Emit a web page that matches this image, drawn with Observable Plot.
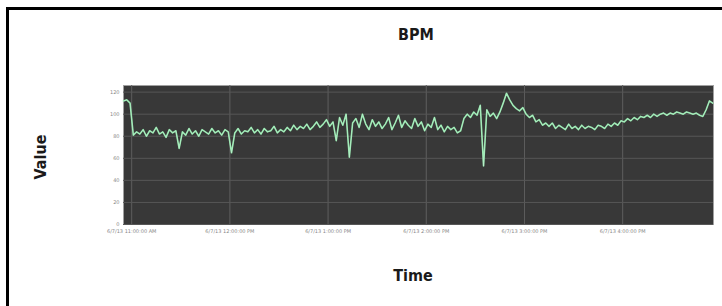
<!DOCTYPE html>
<html>
<head>
<meta charset="utf-8">
<script src="https://cdn.jsdelivr.net/npm/d3@7"></script>
<script src="https://cdn.jsdelivr.net/npm/@observablehq/plot@0.6"></script>
<style>
  html, body { margin: 0; padding: 0; background: #fff; width: 722px; height: 306px; overflow: hidden; }
  #frame-top { position: absolute; left: 6px; top: 7px; width: 716px; height: 3px; background: #000; }
  #frame-left { position: absolute; left: 6px; top: 7px; width: 3px; height: 299px; background: #000; }
  .lbl { position: absolute; font-family: "DejaVu Sans Condensed", "DejaVu Sans", sans-serif; font-weight: bold; font-size: 16px; color: #1a1a1a; white-space: nowrap; }
  #title { left: 416px; top: 34px; transform: translate(-50%, -50%); }
  #xlabel { left: 413px; top: 275px; transform: translate(-50%, -50%); }
  #ylabel { left: 40px; top: 157px; transform: translate(-50%, -50%) rotate(-90deg); }
  #chart { position: absolute; left: 0; top: 0; }
</style>
</head>
<body>
<div id="frame-top"></div>
<div id="frame-left"></div>
<div class="lbl" id="title">BPM</div>
<div class="lbl" id="ylabel">Value</div>
<div class="lbl" id="xlabel">Time</div>
<div id="chart"></div>
<script>
// Data
const startTime = "2013-06-07T10:55:00Z";
const stepMinutes = 2;
const bpm = [
  112, 113, 110, 81, 84, 82, 86, 80, 85, 83,
  88, 82, 84, 79, 86, 83, 85, 69, 84, 81,
  87, 82, 85, 80, 86, 84, 82, 87, 83, 85,
  81, 86, 84, 65, 83, 87, 82, 85, 84, 88,
  83, 86, 82, 87, 84, 85, 89, 83, 86, 84,
  88, 85, 90, 86, 89, 87, 91, 86, 89, 93,
  88, 91, 95, 89, 93, 76, 97, 90, 100, 61,
  92, 96, 88, 100, 91, 86, 95, 89, 93, 87,
  91, 97, 86, 92, 99, 88, 94, 90, 87, 96,
  89, 93, 85, 91, 88, 97, 86, 90, 84, 89,
  86, 88, 83, 85, 96, 100, 97, 102, 99, 108,
  53, 104, 98, 101, 96, 102, 110, 119, 113, 108,
  105, 103, 106, 100, 97, 99, 93, 95, 90, 92,
  89, 92, 87, 90, 88, 86, 91, 87, 89, 86,
  90, 87, 89, 88, 86, 90, 89, 87, 91, 89,
  92, 90, 94, 93, 96, 94, 97, 95, 98, 97,
  99, 97, 100, 98, 100, 101, 99, 101, 100, 102,
  101, 100, 102, 101, 100, 101, 99, 98, 104, 112,
  110
];
const xDomain = ["2013-06-07T10:55:00Z", "2013-06-07T16:55:30Z"];
const xTicks = ["2013-06-07T11:00:00Z", "2013-06-07T12:00:00Z", "2013-06-07T13:00:00Z",
                "2013-06-07T14:00:00Z", "2013-06-07T15:00:00Z", "2013-06-07T16:00:00Z"];
const yTicks = [0, 20, 40, 60, 80, 100, 120];
const yDomain = [0, 126];

const t0 = new Date(startTime).getTime();
const data = bpm.map((v, i) => ({time: new Date(t0 + i * stepMinutes * 60000), value: v}));
const fmt = d3.utcFormat("%-m/%-d/%y %-I:%M:%S %p");
const xTickDates = xTicks.map(d => new Date(d));

const chart = Plot.plot({
  width: 722,
  height: 306,
  marginLeft: 123,
  marginRight: 9,
  marginTop: 85,
  marginBottom: 82,
  style: {background: "transparent", fontFamily: "DejaVu Sans, sans-serif"},
  x: {type: "utc", domain: xDomain.map(d => new Date(d)), ticks: xTickDates, tickFormat: fmt, label: null},
  y: {domain: yDomain, ticks: yTicks, label: null},
  marks: [
    Plot.frame({fill: "#383838", stroke: "#a0a0a0", strokeWidth: 1}),
    Plot.gridX(xTickDates, {stroke: "#5e5e5e", strokeOpacity: 1, strokeWidth: 1}),
    Plot.gridY(yTicks, {stroke: "#575757", strokeOpacity: 1, strokeWidth: 1}),
    Plot.axisX({ticks: xTickDates, tickFormat: fmt, tickSize: 0, tickPadding: 5, fontSize: 5, fill: "#888", label: null}),
    Plot.axisY({ticks: yTicks, tickSize: 0, tickPadding: 4, fontSize: 5, fill: "#888", label: null}),
    Plot.line(data, {x: "time", y: "value", stroke: "#8fe3a8", strokeWidth: 1.6}),
    Plot.line(data, {x: "time", y: "value", stroke: "#e8fff0", strokeWidth: 0.5, strokeOpacity: 0.6})
  ]
});
document.getElementById("chart").appendChild(chart);
</script>
</body>
</html>
